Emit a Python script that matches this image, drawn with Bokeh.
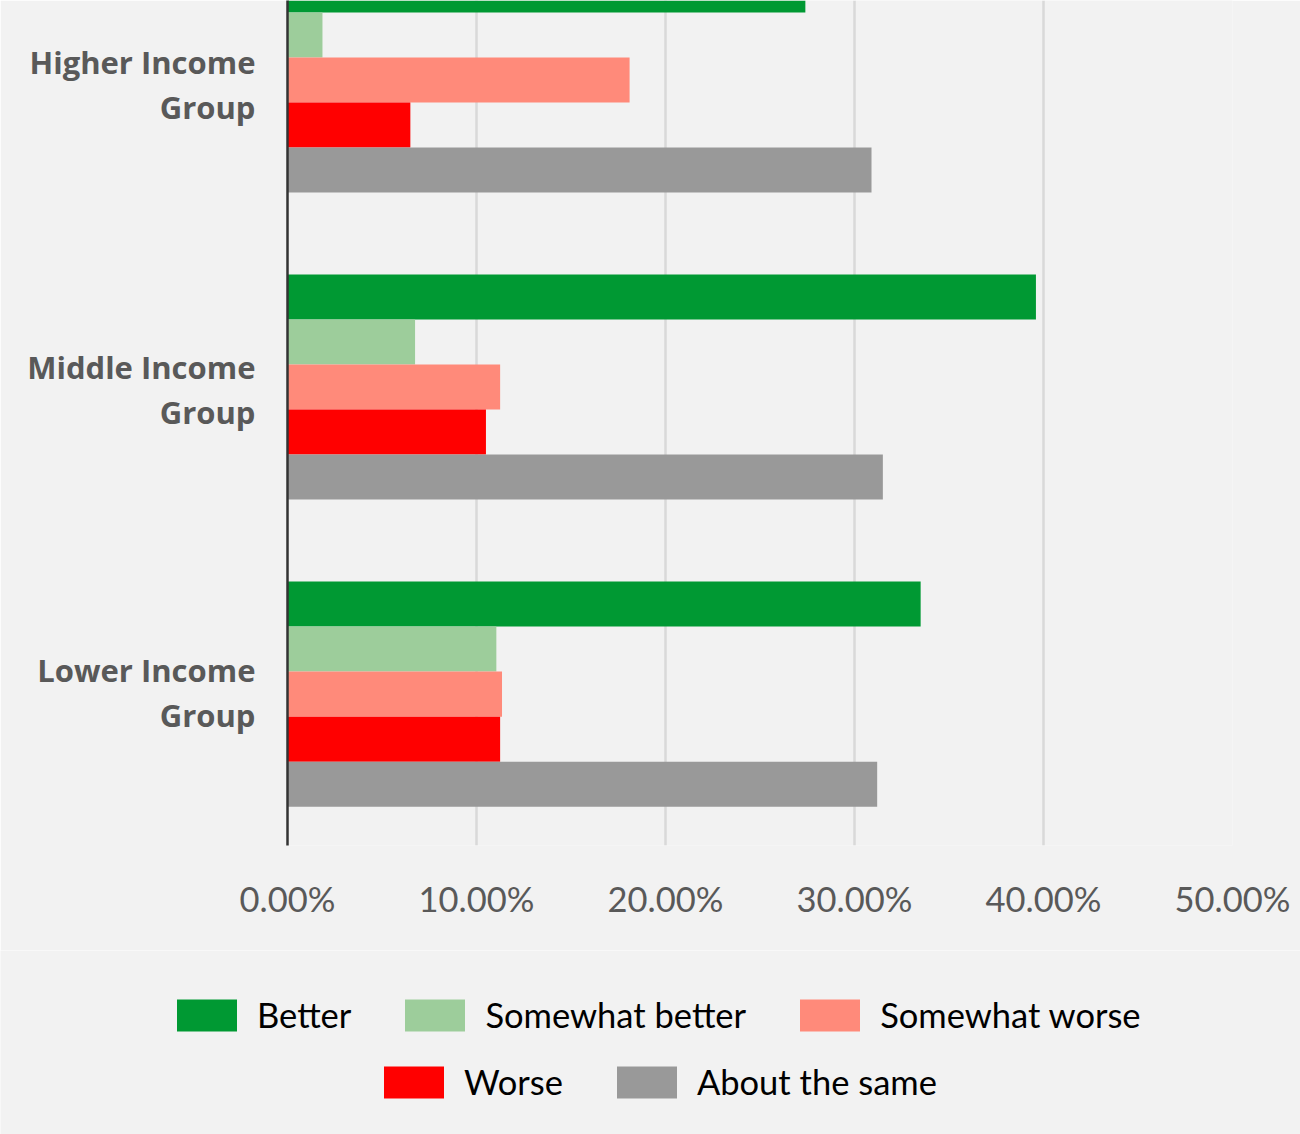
from bokeh.plotting import figure
from bokeh.layouts import column, row
from bokeh.models import Legend, LegendItem, NumeralTickFormatter, FixedTicker, Range1d, ColumnDataSource
from bokeh.embed import file_html
from bokeh.resources import INLINE

groups = ["Lower Income\nGroup", "Middle Income\nGroup", "Higher Income\nGroup"]
series = ["Better", "Somewhat better", "Somewhat worse", "Worse", "About the same"]
colors = ["#009933", "#9dcd9b", "#ff8a7a", "#ff0000", "#999999"]
better = [0.3350, 0.3960, 0.2740]
somewhat_better = [0.1105, 0.0675, 0.0185]
somewhat_worse = [0.1135, 0.1125, 0.1810]
worse = [0.1125, 0.1050, 0.0650]
same = [0.3120, 0.3150, 0.3090]
x_ticks = [0, 0.1, 0.2, 0.3, 0.4, 0.5]
label_ticks = [0.005, 0.992, 1.985]

values = [better, somewhat_better, somewhat_worse, worse, same]
bar_h = 0.1466
BG = "#f2f2f2"

p = figure(width=1300, height=950, output_backend="svg", toolbar_location=None,
           x_range=Range1d(0, 0.5), y_range=Range1d(-0.493, 2.259),
           min_border_left=287, min_border_right=68, min_border_top=0, min_border_bottom=105,
           background_fill_color=BG, border_fill_color=BG, outline_line_color=None)

for i, (name, vals, col) in enumerate(zip(series, values, colors)):
    off = (2 - i) * bar_h
    src = ColumnDataSource(dict(y=[g + off for g in range(len(groups))], right=vals))
    p.hbar(y="y", left=0, right="right", height=bar_h, source=src, fill_color=col, line_color=None)

p.xaxis.ticker = FixedTicker(ticks=x_ticks)
p.xaxis.formatter = NumeralTickFormatter(format="0.00%")
p.xaxis.axis_line_color = None
p.xaxis.major_tick_line_color = None
p.xaxis.minor_tick_line_color = None
p.xaxis.major_label_standoff = 26
p.xaxis.major_label_text_font = "Lato"
p.xaxis.major_label_text_font_size = "34.5px"
p.xaxis.major_label_text_color = "#595959"

p.yaxis.ticker = FixedTicker(ticks=label_ticks)
p.yaxis.major_label_overrides = {t: g for t, g in zip(label_ticks, groups)}
p.yaxis.axis_line_color = "#333333"
p.yaxis.axis_line_width = 2.5
p.yaxis.major_tick_line_color = None
p.yaxis.minor_tick_line_color = None
p.yaxis.major_label_standoff = 26
p.yaxis.major_label_text_font = "Open Sans"
p.yaxis.major_label_text_font_style = "bold"
p.yaxis.major_label_text_font_size = "31px"
p.yaxis.major_label_text_line_height = 1.06
p.yaxis.major_label_text_color = "#595959"

p.xgrid.grid_line_color = "#d9d9d9"
p.xgrid.grid_line_width = 2.5
p.ygrid.grid_line_color = None

# legend area (separate canvas below the chart)
q = figure(width=1300, height=184, output_backend="svg", toolbar_location=None,
           x_range=Range1d(0, 1), y_range=Range1d(0, 1), x_axis_type=None, y_axis_type=None,
           min_border_left=0, min_border_right=0, min_border_top=0, min_border_bottom=0,
           background_fill_color=BG, border_fill_color=BG, outline_line_color=None)
q.xgrid.grid_line_color = None
q.ygrid.grid_line_color = None
# legend swatches: placeholder bars kept outside the visible range
legend_renderers = [q.hbar(y=[-5], left=[0], right=[1], height=0.1, fill_color=c, line_color=None)
                    for c in colors]

def make_legend(idx, loc):
    return Legend(items=[LegendItem(label=series[i], renderers=[legend_renderers[i]]) for i in idx],
                  orientation="horizontal", location=loc,
                  label_text_font="Lato", label_text_font_size="34.5px", label_text_color="#000000",
                  glyph_width=75, glyph_height=40, label_standoff=13, spacing=46,
                  padding=0, margin=0, background_fill_alpha=0, border_line_color=None)

q.add_layout(make_legend([0, 1, 2], (169, 99)), "center")
q.add_layout(make_legend([3, 4], (376, 32)), "center")

open("out.html", "w").write(file_html(column(p, row(q), spacing=0), INLINE))
